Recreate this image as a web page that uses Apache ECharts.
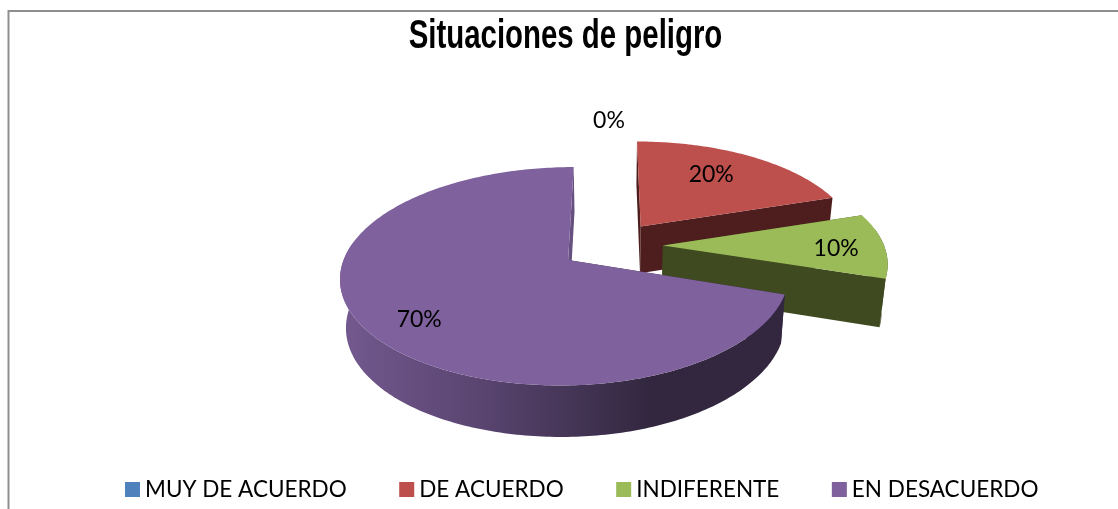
<!DOCTYPE html>
<html><head><meta charset="utf-8">
<style>html,body{margin:0;padding:0;background:#fff}#c{width:1118px;height:509px}</style>
<script src="https://cdn.jsdelivr.net/npm/echarts@6/dist/echarts.min.js"></script>
</head><body><div id="c"></div>
<script>
const titleText = 'Situaciones de peligro';
const categories = ['MUY DE ACUERDO', 'DE ACUERDO', 'INDIFERENTE', 'EN DESACUERDO'];
const values = [0, 20, 10, 70];
const topColors = ['#4F81BD', '#BD4F4C', '#9BBB59', '#7F619E'];
const wallColors = ['#2a4565', '#4E1E1E', '#3F4A20', '#32273F'];

// perspective-disc projection
const CX = 611, CY = 245.5, RX = 220, RY = 102.5, K = 0.146, EXPLODE = 0.236;
const labelRadius = [1.27, 0.71, 0.76, 0.76];
const labelAngleShift = [0, -6, 0, 2];
const labelNudge = [[-2, 1.5], [3, 2.5], [6, 3.5], [5, 11.5]];
const leftStretch = [1, 1, 1, 1];
const rightStretch = [1, 0.99, 1.005, 0.977];

function project(u, v, z, i, ox) {
  const s = 1 / (1 + K * v);
  const depth = 47.5 - 3.5 * v;
  let du = u - ox;
  du *= du < 0 ? leftStretch[i] : rightStretch[i];
  return [CX + RX * (ox + du) * s * (1 - 0.022 * z), CY - RY * v * s + depth * z];
}
const total = values.reduce((a, b) => a + b, 0);
const starts = [];
values.reduce((acc, val, i) => { starts[i] = acc; return acc + val; }, 0);

function sliceShape(i) {
  const a0 = starts[i] / total * 2 * Math.PI;
  const a1 = (starts[i] + values[i]) / total * 2 * Math.PI;
  const mid = (a0 + a1) / 2;
  const ox = EXPLODE * Math.sin(mid), oy = EXPLODE * Math.cos(mid);
  const n = Math.max(2, Math.ceil((a1 - a0) * 60));
  const angles = [];
  for (let j = 0; j <= n; j++) angles.push(a0 + (a1 - a0) * j / n);
  const pt = (a, z) => project(ox + Math.sin(a), oy + Math.cos(a), z, i, ox);
  return { mid, ox, oy, angles, pt };
}

function renderSlice(params) {
  const i = params.seriesIndex;
  const children = [];
  const g = sliceShape(i);
  if (values[i] > 0) {
    const apexTop = project(g.ox, g.oy, 0, i, g.ox), apexBot = project(g.ox, g.oy, 1, i, g.ox);
    const top = g.angles.map(a => g.pt(a, 0));
    const first = top[0], last = top[top.length - 1];
    const firstB = g.pt(g.angles[0], 1), lastB = g.pt(g.angles[g.angles.length - 1], 1);
    const wall = wallColors[i];
    // radial walls
    children.push({ type: 'polygon', shape: { points: [apexTop, first, firstB, apexBot] }, style: { fill: wall } });
    children.push({ type: 'polygon', shape: { points: [apexTop, last, lastB, apexBot] },
      style: { fill: i === 3 ? '#66507f' : wall } });
    // outer wall: only the part that faces the viewer
    const front = g.angles.filter(a => Math.cos(a) <= 0.18);
    if (front.length > 1) {
      const fill = i === 3 ? {
        type: 'linear', x: 340, y: 0, x2: 785, y2: 0, global: true,
        colorStops: [
          { offset: 0, color: '#73598f' }, { offset: 0.3, color: '#5b4672' },
          { offset: 0.7, color: '#32273F' }, { offset: 1, color: '#32273F' }
        ]
      } : wall;
      const t = front.map(a => g.pt(a, 0)), b = front.map(a => g.pt(a, 1)).reverse();
      children.push({ type: 'polygon', shape: { points: t.concat(b) }, style: { fill } });
    }
    // top face
    children.push({ type: 'polygon', shape: { points: [apexTop].concat(top) }, style: { fill: topColors[i] } });
  }
  return { type: 'group', children };
}
function renderLabel(params) {
  const i = params.dataIndex;
  const g = sliceShape(i);
  const a = g.mid + labelAngleShift[i] * Math.PI / 180, r = labelRadius[i];
  const p = project(g.ox + r * Math.sin(a), g.oy + r * Math.cos(a), 0, 0, g.ox);
  return { type: 'text', x: p[0] + labelNudge[i][0], y: p[1] + labelNudge[i][1], z2: 100,
    style: { text: Math.round(values[i] / total * 100) + '%', align: 'center', verticalAlign: 'middle',
      font: '23px Lato', fill: '#000' } };
}
const series = categories.map((name, i) => ({
  type: 'custom', name, coordinateSystem: 'none', renderItem: renderSlice,
  data: [values[i]], itemStyle: { color: topColors[i] }, silent: true, animation: false, z: i + 1
}));
series.push({ type: 'custom', name: 'labels', coordinateSystem: 'none', renderItem: renderLabel,
  data: values, silent: true, animation: false, z: 10 });

const chart = echarts.init(document.getElementById('c'), null, { renderer: 'canvas' });
chart.setOption({
  animation: false,
  legend: { data: categories, left: 120, top: 473, itemWidth: 15, itemHeight: 15, itemGap: 52.5, icon: 'rect',
    textStyle: { fontFamily: 'Lato', fontSize: 22.5, color: '#000' } },
  graphic: [
    { type: 'polyline', z: 0, silent: true,
      shape: { points: [[8.5, 509], [8.5, 11], [1118, 11]] },
      style: { stroke: '#8f8f8f', lineWidth: 2, fill: null } },
    { type: 'text', x: 565.5, y: 36.5, scaleX: 0.735, z: 5, silent: true,
      style: { text: titleText, align: 'center', verticalAlign: 'middle',
        font: 'bold 40px "Liberation Sans"', fill: '#000' } }
  ],
  series
});
</script></body></html>
